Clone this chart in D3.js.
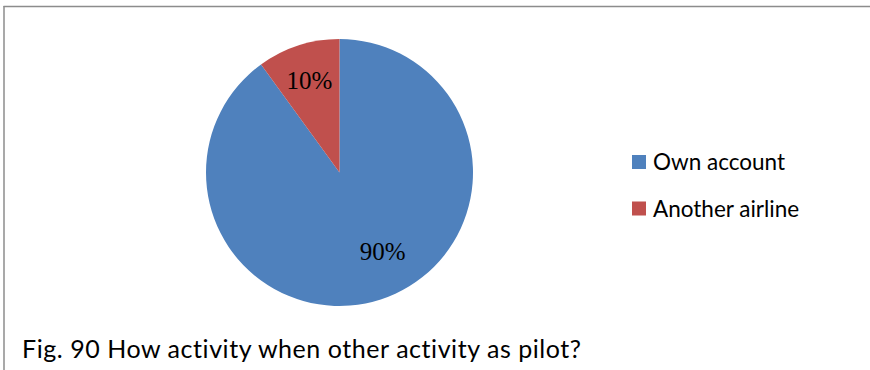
<!DOCTYPE html>
<html><head><meta charset="utf-8">
<script src="https://cdn.jsdelivr.net/npm/d3@7"></script>
<style>html,body{margin:0;padding:0;background:#fff;overflow:hidden}</style>
</head><body>
<svg id="c" width="870" height="370"></svg>
<script>
const categories = ["Own account", "Another airline"];
const values = [90, 10];
const labels = ["90%", "10%"];
const colors = ["#4F81BD", "#C0504D"];
const caption = "Fig. 90 How activity when other activity as pilot?";

const svg = d3.select("#c");
// frame
svg.append("line").attr("x1",3.5).attr("y1",6.5).attr("x2",870).attr("y2",6.5).attr("stroke","#8c8c8c").attr("stroke-width",1.5);
svg.append("line").attr("x1",4).attr("y1",6).attr("x2",4).attr("y2",370).attr("stroke","#8c8c8c").attr("stroke-width",1.5);

const cx = 339.5, cy = 172.5, r = 133.5;
const pie = d3.pie().sort(null).value(d => d)(values);
const arc = d3.arc().innerRadius(0).outerRadius(r);
const g = svg.append("g").attr("transform", `translate(${cx},${cy})`);
g.selectAll("path").data(pie).join("path").attr("d", arc).attr("fill", (d,i)=>colors[i]);
// label placement: radius fraction and angular shift per slice size
function labelPos(d){
  const big = (d.endAngle - d.startAngle) > Math.PI;
  const a = (d.startAngle + d.endAngle)/2 - (big ? 0.19 : 0);
  const rr = r * (big ? 0.67 : 0.73);
  return [Math.sin(a)*rr, -Math.cos(a)*rr];
}
g.selectAll("text").data(pie).join("text")
  .attr("transform", d => { const c = labelPos(d); return `translate(${c[0]},${c[1]})`; })
  .attr("text-anchor","middle").attr("dy","0.35em")
  .attr("font-family","'Liberation Serif', serif").attr("font-size",25).attr("fill","#000")
  .text((d,i)=>labels[i]);

const leg = svg.append("g");
categories.forEach((c,i)=>{
  leg.append("rect").attr("x",632).attr("y",155+i*46.5).attr("width",14).attr("height",14).attr("fill",colors[i]);
  leg.append("text").attr("x",653).attr("y",170+i*47).attr("font-family","Lato, sans-serif").attr("font-size",22.5).attr("fill","#000").text(c);
});
svg.append("text").attr("x",22).attr("y",358).attr("font-family","Lato, sans-serif").attr("font-size",25)
  .attr("letter-spacing",0.55).attr("fill","#000").text(caption);
</script>
</body></html>
